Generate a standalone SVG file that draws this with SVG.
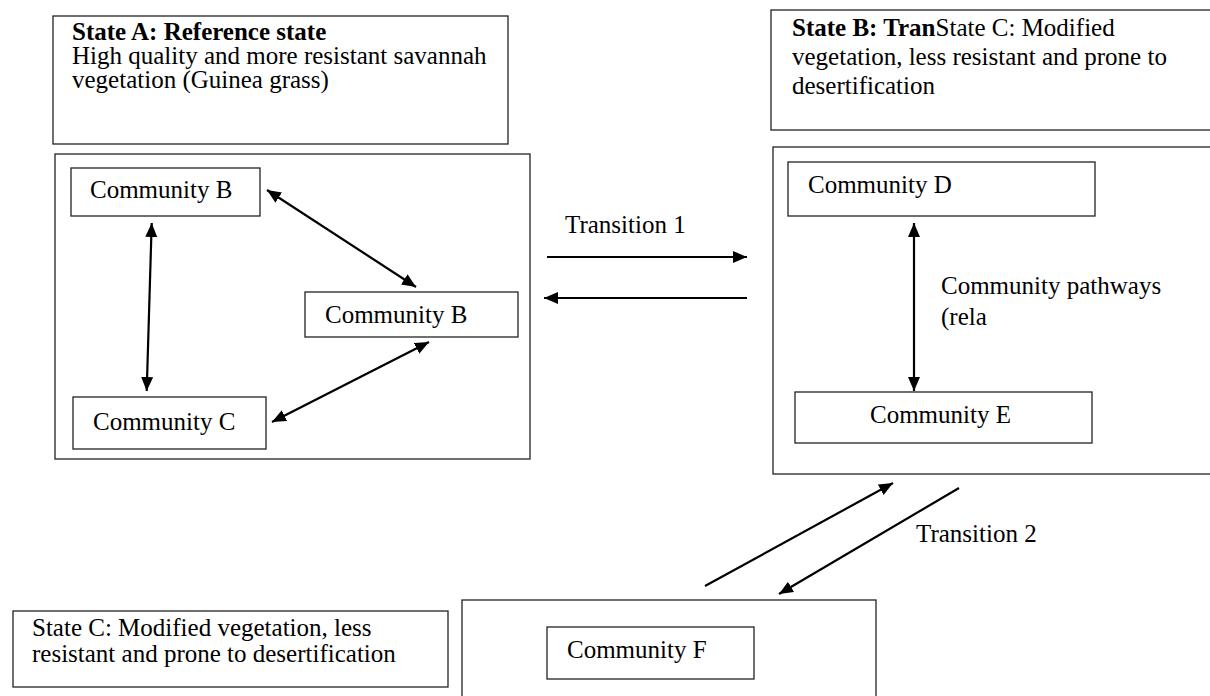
<svg xmlns="http://www.w3.org/2000/svg" width="1210" height="696" viewBox="0 0 1210 696">
<style>
  .box{fill:#fff;stroke:#222;stroke-width:1.3}
  .t{font-family:"Liberation Serif","Times New Roman",serif;font-size:25px;fill:#000}
  .b{font-weight:bold}
  .ln{stroke:#000;stroke-width:2.2;fill:none}
</style>
<defs>
  <marker id="ah" markerUnits="userSpaceOnUse" markerWidth="16" markerHeight="14" refX="14" refY="6" orient="auto-start-reverse">
    <path d="M0,0 L14,6 L0,12 z" fill="#000"/>
  </marker>
</defs>
<rect width="1210" height="696" fill="#fff"/>

<g id="stateA">
  <rect class="box" x="53" y="16" width="455" height="128"/>
  <text class="t b" x="72" y="40">State A: Reference state</text>
  <text class="t" x="72" y="64">High quality and more resistant savannah</text>
  <text class="t" x="72" y="88">vegetation (Guinea grass)</text>
</g>

<g id="stateA-frame">
  <rect class="box" x="55" y="154" width="475" height="305"/>
</g>
<g id="commB1">
  <rect class="box" x="71" y="168" width="189" height="48"/>
  <text class="t" x="90" y="198">Community B</text>
</g>
<g id="commB2">
  <rect class="box" x="305" y="292" width="213" height="45"/>
  <text class="t" x="325" y="323">Community B</text>
</g>
<g id="commC">
  <rect class="box" x="73" y="397" width="193" height="52"/>
  <text class="t" x="93" y="430">Community C</text>
</g>

<g id="stateB">
  <rect class="box" x="771" y="10" width="440" height="120"/>
  <text class="t" x="792" y="36"><tspan class="b">State B: Tran</tspan>State C: Modified</text>
  <text class="t" x="792" y="65">vegetation, less resistant and prone to</text>
  <text class="t" x="792" y="94">desertification</text>
</g>

<g id="stateB-frame">
  <rect class="box" x="773" y="147" width="440" height="327"/>
</g>
<g id="commD">
  <rect class="box" x="788" y="162" width="307" height="54"/>
  <text class="t" x="808" y="193">Community D</text>
</g>
<g id="commE">
  <rect class="box" x="795" y="392" width="297" height="51"/>
  <text class="t" x="870" y="423">Community E</text>
</g>
<g id="pathways-label">
  <text class="t" x="941" y="294">Community pathways</text>
  <text class="t" x="941" y="325">(rela</text>
</g>

<g id="stateC">
  <rect class="box" x="13" y="611" width="435" height="76"/>
  <text class="t" x="32" y="636">State C: Modified vegetation, less</text>
  <text class="t" x="32" y="662">resistant and prone to desertification</text>
</g>

<g id="stateC-frame">
  <rect class="box" x="462" y="600" width="414" height="110"/>
</g>
<g id="commF">
  <rect class="box" x="547" y="627" width="207" height="52"/>
  <text class="t" x="567" y="658">Community F</text>
</g>

<g id="transition-labels">
  <text class="t" x="565" y="233">Transition 1</text>
  <text class="t" x="916" y="542">Transition 2</text>
</g>

<g id="connectors">
  <line class="ln" x1="151.7" y1="223" x2="146.7" y2="391" marker-start="url(#ah)" marker-end="url(#ah)"/>
  <line class="ln" x1="267" y1="190" x2="416" y2="287" marker-start="url(#ah)" marker-end="url(#ah)"/>
  <line class="ln" x1="272" y1="422" x2="429" y2="342" marker-start="url(#ah)" marker-end="url(#ah)"/>
  <line class="ln" x1="914" y1="223" x2="914" y2="391" marker-start="url(#ah)" marker-end="url(#ah)"/>
  <line class="ln" x1="547" y1="257" x2="747" y2="257" marker-end="url(#ah)"/>
  <line class="ln" x1="747" y1="298" x2="544" y2="298" marker-end="url(#ah)"/>
  <line class="ln" x1="705" y1="586" x2="893" y2="483" marker-end="url(#ah)"/>
  <line class="ln" x1="959" y1="488" x2="779" y2="594" marker-end="url(#ah)"/>
</g>
</svg>
